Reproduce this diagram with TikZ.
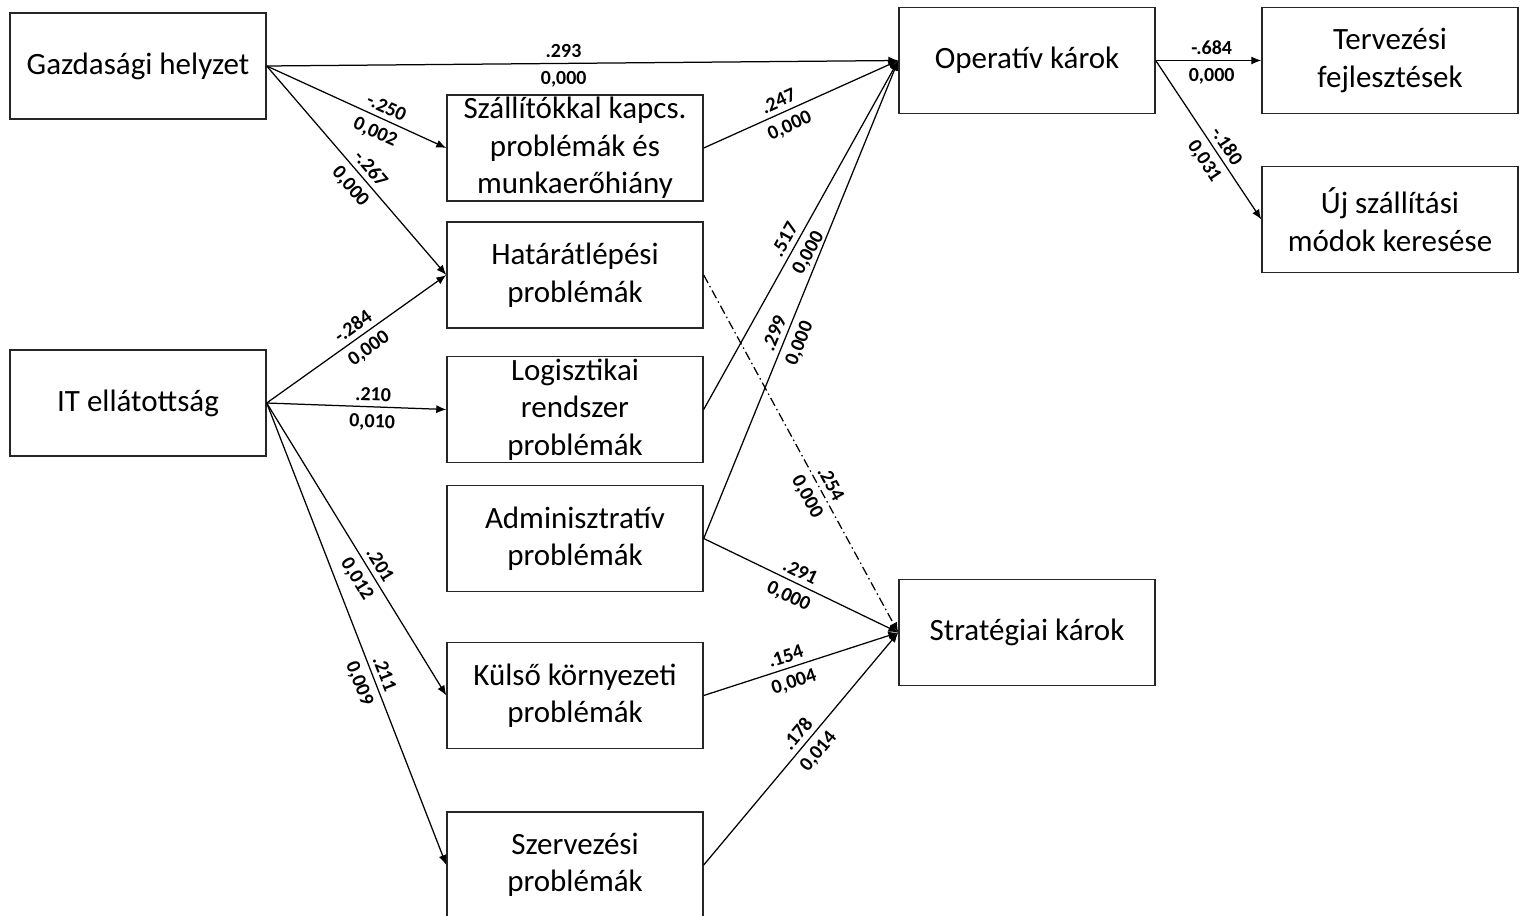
\documentclass[tikz,border=0pt]{standalone}
\usepackage{fontspec}
\setmainfont{Carlito}
\usetikzlibrary{arrows.meta}
\begin{document}
\begin{tikzpicture}[x=1pt,y=-1pt,
  box/.style={draw=black!85, line width=1.4pt, minimum width=256pt, minimum height=106pt,
    inner sep=0pt, align=center, font=\fontsize{31}{37.5}\selectfont},
  link/.style={line width=1.25pt, -{Latex[length=10pt,width=8pt]}},
  coef/.style={font=\fontsize{20}{22}\selectfont\bfseries, sloped, above, inner sep=5pt},
  sig/.style={font=\fontsize{20}{22}\selectfont\bfseries, sloped, below, inner sep=7pt}]
\useasboundingbox (0,0) rectangle (1524,916);

% exogenous factors
\node[box] (G)  at (138,66)    {Gazdasági helyzet};
\node[box] (IT) at (138,403)   {IT ellátottság};

% problem groups
\node[box] (SZ)  at (575,148)   {Szállítókkal kapcs.\\problémák és\\munkaerőhiány};
\node[box] (H)   at (575,275)   {Határátlépési\\problémák};
\node[box] (L)   at (575,409.5) {Logisztikai\\rendszer\\problémák};
\node[box] (A)   at (575,538.5) {Adminisztratív\\problémák};
\node[box] (K)   at (575,695.5) {Külső környezeti\\problémák};
\node[box] (SZE) at (575,865)   {Szervezési\\problémák};

% damages
\node[box] (O) at (1027,60.5)  {Operatív károk};
\node[box] (S) at (1027,632.5) {Stratégiai károk};

% responses
\node[box] (T) at (1390,60.5)  {Tervezési\\fejlesztések};
\node[box] (U) at (1390,219.5) {Új szállítási\\módok keresése};

% paths with coefficients and significance levels
\draw[link] (G.east) -- node[coef,pos=.47]{.293} node[sig,pos=.47]{0,000} (O.west);
\draw[link] (G.east) -- node[coef,pos=.64]{-.250} node[sig,pos=.64]{0,002} (SZ.west);
\draw[link] (G.east) -- node[coef,pos=.53]{-.267} node[sig,pos=.53]{0,000} (H.west);

\draw[link] (IT.east) -- node[coef,pos=.52]{-.284} node[sig,pos=.52]{0,000} (H.west);
\draw[link] (IT.east) -- node[coef,pos=.59]{.210} node[sig,pos=.59]{0,010} (L.west);
\draw[link] (IT.east) -- node[coef,pos=.575]{.201} node[sig,pos=.575]{0,012} (K.west);
\draw[link] (IT.east) -- node[coef,pos=.595]{.211} node[sig,pos=.595]{0,009} (SZE.west);

\draw[link] (SZ.east) -- node[coef,pos=.41]{.247} node[sig,pos=.41]{0,000} (O.west);
\draw[link] (L.east) -- node[coef,pos=.47]{.517} node[sig,pos=.47]{0,000} (O.west);
\draw[link] (A.east) -- node[coef,pos=.42]{.299} node[sig,pos=.42]{0,000} (O.west);

\draw[link, dash pattern=on 9pt off 3.5pt on 1.5pt off 3.5pt] (H.east) -- node[coef,pos=.60]{.254} node[sig,pos=.60]{0,000} (S.west);
\draw[link] (A.east) -- node[coef,pos=.47]{.291} node[sig,pos=.47]{0,000} (S.west);
\draw[link] (K.east) -- node[coef,pos=.44]{.154} node[sig,pos=.44]{0,004} (S.west);
\draw[link] (SZE.east) -- node[coef,pos=.53]{.178} node[sig,pos=.53]{0,014} (S.west);

\draw[link] (O.east) -- node[coef,pos=.53]{-.684} node[sig,pos=.53]{0,000} (T.west);
\draw[link] (O.east) -- node[coef,pos=.58]{-.180} node[sig,pos=.58]{0,031} (U.west);
\end{tikzpicture}
\end{document}
